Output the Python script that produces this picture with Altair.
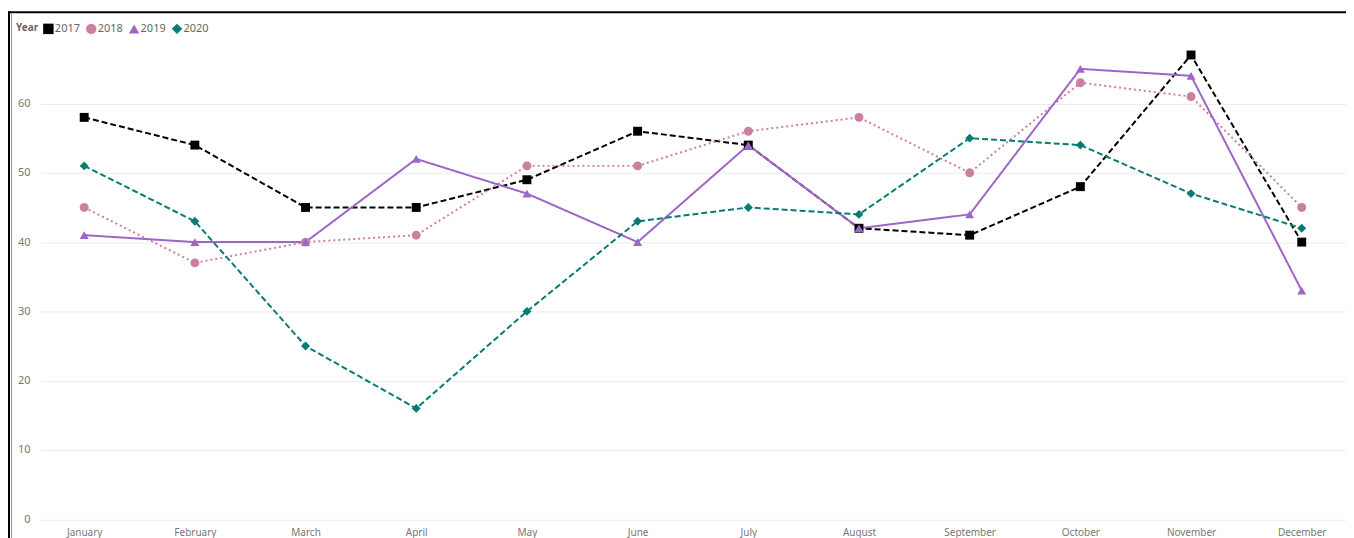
import altair as alt
import pandas as pd

months = ["January", "February", "March", "April", "May", "June", "July",
          "August", "September", "October", "November", "December"]
years = ["2017", "2018", "2019", "2020"]
v2017 = [58, 54, 45, 45, 49, 56, 54, 42, 41, 48, 67, 40]
v2018 = [45, 37, 40, 41, 51, 51, 56, 58, 50, 63, 61, 45]
v2019 = [41, 40, 40, 52, 47, 40, 54, 42, 44, 65, 64, 33]
v2020 = [51, 43, 25, 16, 30, 43, 45, 44, 55, 54, 47, 42]
colors = ["#000000", "#CC7FA0", "#9E66C6", "#077B74"]
shapes = ["square", "circle", "triangle-up", "diamond"]
dashes = [[6, 3], [2, 3], [1, 0], [6, 3]]

rows = []
for y, vals in zip(years, [v2017, v2018, v2019, v2020]):
    for m, v in zip(months, vals):
        rows.append({"Year": y, "Month": m, "Value": v})
df = pd.DataFrame(rows)

FONT = "Noto Sans"
W, H = 1310, 486.5

x = alt.X("Month:N", sort=months, title=None,
          scale=alt.Scale(type="point", padding=0.4),
          axis=alt.Axis(labelAngle=0, domain=False, ticks=False, grid=False,
                        labelColor="#777777", labelFontSize=10, labelPadding=8, labelFont=FONT))
y = alt.Y("Value:Q", title=None, scale=alt.Scale(domain=[0, 70], nice=False),
          axis=alt.Axis(values=[0, 10, 20, 30, 40, 50, 60], domain=False, ticks=False,
                        gridColor="#ececec", labelColor="#777777", labelFontSize=11,
                        labelPadding=10, labelFont=FONT))
legend = alt.Legend(title="Year", orient="none", legendX=-24, legendY=-11,
                    direction="horizontal", titleOrient="left")
color = alt.Color("Year:N", scale=alt.Scale(domain=years, range=colors), legend=legend)

base = alt.Chart(df)
lines = base.mark_line(strokeWidth=2).encode(
    x=x, y=y, color=color,
    strokeDash=alt.StrokeDash("Year:N", scale=alt.Scale(domain=years, range=dashes), legend=None),
)
points = base.mark_point(filled=True, size=80, opacity=1).encode(
    x=x, y=y, color=color,
    shape=alt.Shape("Year:N", scale=alt.Scale(domain=years, range=shapes), legend=legend),
)

border_df = pd.DataFrame({"k": [0]})
top_border = alt.Chart(border_df).mark_rule(color="#000000", strokeWidth=2, clip=False).encode(
    x=alt.value(-32), x2=alt.value(1313), y=alt.value(-22), y2=alt.value(-22))
left_border = alt.Chart(border_df).mark_rule(color="#000000", strokeWidth=2, clip=False).encode(
    x=alt.value(-31), y=alt.value(-23), y2=alt.value(530))
left_border2 = alt.Chart(border_df).mark_rule(color="#8a8ad0", strokeWidth=1, clip=False).encode(
    x=alt.value(-28.5), y=alt.value(-21), y2=alt.value(530))
right_border = alt.Chart(border_df).mark_rule(color="#7070b8", strokeWidth=1.5, clip=False).encode(
    x=alt.value(1312.5), y=alt.value(-21), y2=alt.value(530))

chart = alt.layer(lines, points, top_border, left_border, left_border2, right_border).properties(
    width=W, height=H,
    autosize=alt.AutoSizeParams(type="none"),
    padding={"left": 32, "top": 25.5, "right": 0, "bottom": 22},
    background="white",
).configure_view(strokeWidth=0, stroke="transparent").configure_legend(
    titleFontSize=10, titleFontWeight="bold", titleColor="#666666", titleFont=FONT,
    labelFontSize=11, labelColor="#666666", labelFont=FONT, symbolSize=110,
    columnPadding=5, titlePadding=4, labelOffset=1, symbolStrokeWidth=0,
)

chart.save("out.html", embed_options={"renderer": "svg", "actions": False})
